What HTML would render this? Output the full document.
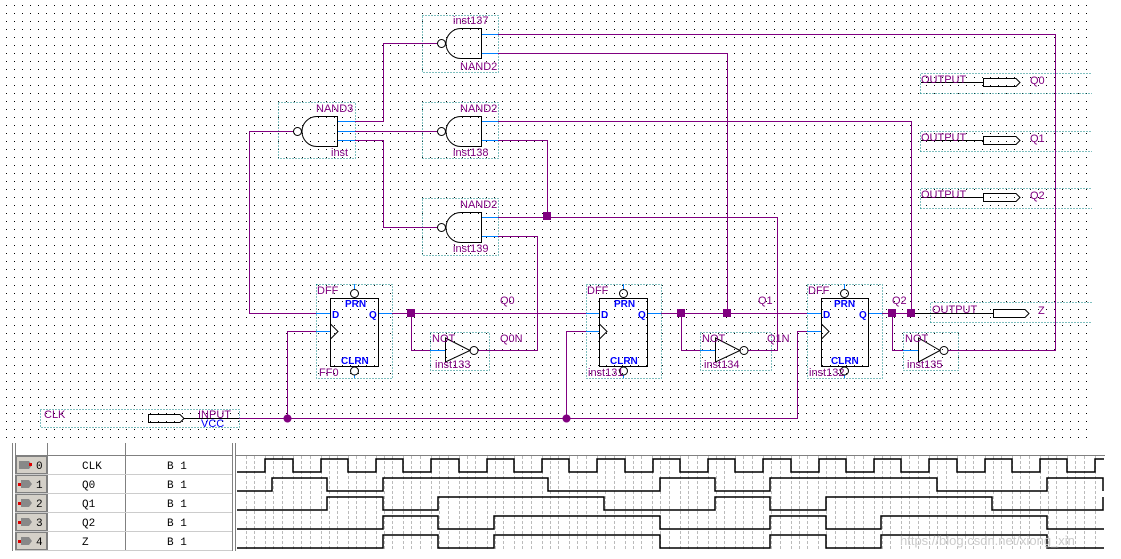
<!DOCTYPE html>
<html><head><meta charset="utf-8"><style>
html,body{margin:0;padding:0;background:#fff;}
svg{display:block;}
text{font-family:"Liberation Sans",sans-serif;font-size:11px;fill:#800080;}
.b{fill:#0000ff;font-weight:bold;font-size:10px;}
.m{font-family:"Liberation Mono","DejaVu Sans Mono",monospace;fill:#000;font-size:11px;}
</style></head><body>
<svg width="1121" height="559" viewBox="0 0 1121 559" xmlns="http://www.w3.org/2000/svg">
<defs>
<pattern id="dots" x="0" y="0" width="8" height="8" patternUnits="userSpaceOnUse">
<rect x="6" y="5" width="1" height="1" fill="#000"/>
</pattern>
</defs>
<rect x="0" y="0" width="1092" height="440" fill="url(#dots)"/>
<g fill="none" stroke-width="1">
<g stroke="#008080" stroke-dasharray="1,2">
<rect x="422.5" y="15.5" width="76" height="57"/>
<rect x="278.5" y="102.5" width="77" height="56"/>
<rect x="422.5" y="102.5" width="76" height="56"/>
<rect x="422.5" y="198.5" width="76" height="57"/>
<rect x="316.5" y="284.5" width="76" height="94"/>
<rect x="586.5" y="284.5" width="75" height="94"/>
<rect x="807.5" y="284.5" width="75" height="94"/>
<rect x="430.5" y="332.5" width="59" height="38"/>
<rect x="700.5" y="332.5" width="71" height="38"/>
<rect x="903.5" y="332.5" width="55" height="38"/>
<rect x="40.5" y="409.5" width="199" height="18"/>
<path d="M930.5,322.5 V302.5 H1092 M930.5,322.5 H1092"/>
<path d="M920.5,93.5 V73.5 H1092 M920.5,93.5 H1092"/>
<path d="M920.5,151.5 V131.5 H1092 M920.5,151.5 H1092"/>
<path d="M920.5,208.5 V188.5 H1092 M920.5,208.5 H1092"/>
</g>
<g stroke="#800080">
<path d="M437,43.5 H383.5 V121.5 H355"/>
<path d="M355,131.5 H437"/>
<path d="M355,140.5 H383.5 V227.5 H437"/>
<path d="M294,131.5 H249.5 V313.5 H316"/>
<path d="M498,34.5 H1055.5 V350.5 H948"/>
<path d="M498,53.5 H727.5 V313.5"/>
<path d="M498,121.5 H911.5 V313.5"/>
<path d="M498,140.5 H547.5 V216.5"/>
<path d="M498,217.5 H777.5 V350.5 H748"/>
<path d="M498,236.5 H537.5 V350.5 H478"/>
<path d="M378,313.5 H586"/>
<path d="M411.5,313.5 V350.5 H430"/>
<path d="M647,313.5 H807"/>
<path d="M681.5,313.5 V350.5 H700"/>
<path d="M868,313.5 H930"/>
<path d="M892.5,313.5 V350.5 H903"/>
<path d="M239,418.5 H797.5 V331.5 H807"/>
<path d="M287.5,418.5 V331.5 H316"/>
<path d="M566.5,418.5 V331.5 H586"/>
</g>
<g stroke="#0080ff">
<path d="M481,34.5 H498 M481,53.5 H498 M481,121.5 H498 M481,140.5 H498 M481,217.5 H498 M481,236.5 H498"/>
<path d="M337,121.5 H355 M337,131.5 H355 M337,140.5 H355"/>
<path d="M316,313.5 H330 M316,331.5 H330 M378,313.5 H392"/>
<path d="M586,313.5 H599 M586,331.5 H599 M647,313.5 H661"/>
<path d="M807,313.5 H821 M807,331.5 H821 M868,313.5 H882"/>
<path d="M354.5,284 V289 M354.5,375 V378 M623.5,284 V289 M623.5,375 V378 M844.5,284 V289 M844.5,375 V378"/>
<path d="M430,350.5 H445 M700,350.5 H715 M903,350.5 H918"/>
</g>
<g stroke="#000">
<path d="M481.5,28.5 H461 A15,15 0 0 0 461,58.5 H481.5 Z"/><circle cx="441.5" cy="43.5" r="4"/>
<path d="M481.5,116.5 H461 A15,15 0 0 0 461,146.5 H481.5 Z"/><circle cx="441.5" cy="131.5" r="4"/>
<path d="M481.5,212.5 H461 A15,15 0 0 0 461,242.5 H481.5 Z"/><circle cx="441.5" cy="227.5" r="4"/>
<path d="M337.5,116.5 H317 A15,15 0 0 0 317,146.5 H337.5 Z"/><circle cx="297.5" cy="131.5" r="4"/>
<rect x="330.5" y="298.5" width="48" height="68"/><path d="M330.5,324 L338,331.5 L330.5,339"/><circle cx="354.5" cy="293.5" r="4"/><circle cx="354.5" cy="371" r="4"/>
<rect x="599.5" y="298.5" width="48" height="68"/><path d="M599.5,324 L607,331.5 L599.5,339"/><circle cx="623.5" cy="293.5" r="4"/><circle cx="623.5" cy="371" r="4"/>
<rect x="821.5" y="298.5" width="47" height="68"/><path d="M821.5,324 L829,331.5 L821.5,339"/><circle cx="844.5" cy="293.5" r="4"/><circle cx="844.5" cy="371" r="4"/>
<path d="M445.5,338 V362 L470,350.5 Z"/><circle cx="474" cy="350.5" r="4"/>
<path d="M715.5,338 V362 L740,350.5 Z"/><circle cx="744" cy="350.5" r="4"/>
<path d="M918.5,338 V362 L940,350.5 Z"/><circle cx="944" cy="350.5" r="4"/>
<path d="M921,82.5 H983 M983.5,78.5 H1016 L1020,82.5 L1016,86.5 H983.5 Z"/>
<path d="M921,140.5 H983 M983.5,136.5 H1016 L1020,140.5 L1016,144.5 H983.5 Z"/>
<path d="M921,197.5 H983 M983.5,193.5 H1016 L1020,197.5 L1016,201.5 H983.5 Z"/>
<path d="M911,313.5 H993 M993.5,309.5 H1025 L1029,313.5 L1025,317.5 H993.5 Z"/>
<path d="M148.5,414.5 H180 L184,418.5 L180,422.5 H148.5 Z M184,418.5 H239"/>
</g>
</g>
<g fill="#800080">
<rect x="543" y="212" width="8" height="8"/>
<rect x="407" y="309" width="8" height="8"/>
<rect x="677" y="309" width="8" height="8"/>
<rect x="723" y="309" width="8" height="8"/>
<rect x="888" y="309" width="8" height="8"/>
<rect x="907" y="309" width="8" height="8"/>
<circle cx="287.5" cy="418.5" r="4"/>
<circle cx="566.5" cy="418.5" r="4"/>
</g>
<text x="453" y="24">inst137</text><text x="460" y="70">NAND2</text>
<text x="316" y="112">NAND3</text><text x="331" y="156">inst</text>
<text x="460" y="112">NAND2</text><text x="453" y="156">inst138</text>
<text x="460" y="208">NAND2</text><text x="453" y="252">inst139</text>
<text x="317" y="294">DFF</text><text x="319" y="376">FF0</text>
<text x="587" y="294">DFF</text><text x="588" y="376">inst131</text>
<text x="808" y="294">DFF</text><text x="809" y="376">inst132</text>
<text class="b" x="345" y="307">PRN</text><text class="b" x="341" y="364">CLRN</text>
<text class="b" x="614" y="307">PRN</text><text class="b" x="610" y="364">CLRN</text>
<text class="b" x="834" y="307">PRN</text><text class="b" x="831" y="364">CLRN</text>
<text class="b" x="332" y="318">D</text><text class="b" x="369" y="318">Q</text>
<text class="b" x="601" y="318">D</text><text class="b" x="638" y="318">Q</text>
<text class="b" x="823" y="318">D</text><text class="b" x="859" y="318">Q</text>
<text x="432" y="342">NOT</text><text x="435" y="368">inst133</text>
<text x="702" y="342">NOT</text><text x="704" y="368">inst134</text>
<text x="905" y="342">NOT</text><text x="907" y="368">inst135</text>
<text x="500" y="304">Q0</text><text x="500" y="342">Q0N</text>
<text x="758" y="304">Q1</text><text x="767" y="342">Q1N</text>
<text x="892" y="304">Q2</text>
<text x="932" y="313">OUTPUT</text><text x="1038" y="314">Z</text>
<text x="921" y="83">OUTPUT</text><text x="1030" y="84">Q0</text>
<text x="921" y="141">OUTPUT</text><text x="1030" y="142">Q1</text>
<text x="921" y="198">OUTPUT</text><text x="1030" y="199">Q2</text>
<text x="44" y="418">CLK</text><text x="198" y="418">INPUT</text><text x="201" y="427" style="fill:#0000ff">VCC</text>
<rect x="0" y="441" width="1121" height="118" fill="#fff"/>
<g fill="none" stroke="#808080">
<path d="M12.5,443 V551 M15.5,443 V551 M47.5,443 V551 M125.5,443 V551 M232.5,443 V551 M235.5,443 V551"/>
<path d="M15,455.5 H232 M236,455.5 H1105"/>
</g>
<g stroke="#ccc">
<path d="M15,474.5 H232 M15,493.5 H232 M15,512.5 H232 M15,531.5 H232 M15,550.5 H232"/>
</g>
<g fill="#d4d0c8" stroke="#808080">
<rect x="16.5" y="456.5" width="30" height="17"/><rect x="16.5" y="475.5" width="30" height="17"/><rect x="16.5" y="494.5" width="30" height="17"/><rect x="16.5" y="513.5" width="30" height="17"/><rect x="16.5" y="532.5" width="30" height="17"/>
</g>
<g fill="#888">
<path d="M19,461 h10 l3,4 l-3,4 h-10z"/><path d="M21,480 h8 l3,4 l-3,4 h-8z"/><path d="M21,499 h8 l3,4 l-3,4 h-8z"/><path d="M21,518 h8 l3,4 l-3,4 h-8z"/><path d="M21,537 h8 l3,4 l-3,4 h-8z"/>
</g>
<g fill="#e00000"><rect x="29" y="463" width="3" height="3"/><rect x="18" y="483" width="3" height="3"/><rect x="18" y="502" width="3" height="3"/><rect x="18" y="521" width="3" height="3"/><rect x="18" y="540" width="3" height="3"/></g>
<text class="m" x="36" y="469">0</text><text class="m" x="36" y="488">1</text><text class="m" x="36" y="507">2</text><text class="m" x="36" y="526">3</text><text class="m" x="36" y="545">4</text>
<text class="m" x="82" y="469">CLK</text><text class="m" x="82" y="488">Q0</text><text class="m" x="82" y="507">Q1</text><text class="m" x="82" y="526">Q2</text><text class="m" x="82" y="545">Z</text>
<text class="m" x="167" y="469">B 1</text><text class="m" x="167" y="488">B 1</text><text class="m" x="167" y="507">B 1</text><text class="m" x="167" y="526">B 1</text><text class="m" x="167" y="545">B 1</text>
<g stroke="#bbb" stroke-dasharray="3,2">
<path d="M246.5,456V551M254.5,456V551M265.5,456V551M273.5,456V551M282.5,456V551M293.5,456V551M301.5,456V551M310.5,456V551M321.5,456V551M329.5,456V551M337.5,456V551M348.5,456V551M356.5,456V551M365.5,456V551M376.5,456V551M384.5,456V551M392.5,456V551M403.5,456V551M411.5,456V551M420.5,456V551M431.5,456V551M439.5,456V551M448.5,456V551M459.5,456V551M467.5,456V551M475.5,456V551M487.5,456V551M495.5,456V551M503.5,456V551M514.5,456V551M522.5,456V551M531.5,456V551M542.5,456V551M550.5,456V551M558.5,456V551M569.5,456V551M577.5,456V551M586.5,456V551M597.5,456V551M605.5,456V551M614.5,456V551M625.5,456V551M633.5,456V551M641.5,456V551M652.5,456V551M660.5,456V551M669.5,456V551M680.5,456V551M688.5,456V551M697.5,456V551M708.5,456V551M716.5,456V551M724.5,456V551M735.5,456V551M743.5,456V551M752.5,456V551M763.5,456V551M771.5,456V551M780.5,456V551M791.5,456V551M799.5,456V551M807.5,456V551M818.5,456V551M826.5,456V551M835.5,456V551M846.5,456V551M854.5,456V551M863.5,456V551M874.5,456V551M882.5,456V551M890.5,456V551M901.5,456V551M909.5,456V551M918.5,456V551M929.5,456V551M937.5,456V551M946.5,456V551M957.5,456V551M965.5,456V551M973.5,456V551M985.5,456V551M993.5,456V551M1001.5,456V551M1012.5,456V551M1020.5,456V551M1029.5,456V551M1040.5,456V551M1048.5,456V551M1056.5,456V551M1067.5,456V551M1075.5,456V551M1084.5,456V551M1095.5,456V551"/>
</g>
<g fill="none" stroke="#000" stroke-width="1.5">
<path d="M237,472 H265 V459 H293 V472 H321 V459 H348 V472 H376 V459 H403 V472 H431 V459 H459 V472 H487 V459 H514 V472 H542 V459 H569 V472 H597 V459 H625 V472 H653 V459 H680 V472 H708 V459 H735 V472 H763 V459 H791 V472 H819 V459 H846 V472 H874 V459 H901 V472 H929 V459 H957 V472 H985 V459 H1012 V472 H1040 V459 H1067 V472 H1095 V459 H1104"/>
<path d="M237,491 H272 V478 H327 V491 H383 V478 H548 V491 H660 V478 H715 V491 H770 V478 H937 V491 H1047 V478 H1103 V491"/>
<path d="M237,510 H327 V497 H383 V510 H438 V497 H604 V510 H715 V497 H770 V510 H826 V497 H992 V510 H1103 V497"/>
<path d="M237,529 H383 V516 H438 V529 H494 V516 H660 V529 H770 V516 H826 V529 H881 V516 H1047 V529 H1104"/>
<path d="M237,548 H383 V535 H438 V548 H494 V535 H660 V548 H770 V535 H826 V548 H881 V535 H1047 V548 H1104"/>
</g>
<text x="900" y="545" style="fill:#ccc;font-size:13px">https://blog.csdn.net/xiong_xin</text>
</svg>
</body></html>
